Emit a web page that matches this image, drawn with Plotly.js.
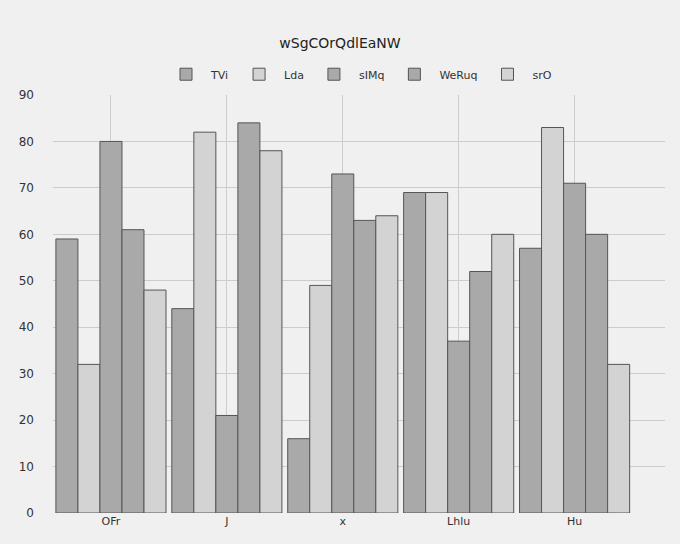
<!DOCTYPE html>
<html>
<head>
<script src="https://cdn.plot.ly/plotly-3.0.1.min.js"></script>
<style>body{margin:0;background:#f0f0f0}</style>
</head>
<body>
<div id="graf" style="width:680px;height:544px"></div>
<script>
var kategorie = ['OFr', 'J', 'x', 'Lhlu', 'Hu'];
var nazvy = ['TVi', 'Lda', 'sIMq', 'WeRuq', 'srO'];
var farby = ['#a9a9a9', '#d3d3d3', '#a9a9a9', '#a9a9a9', '#d3d3d3'];
var hodnotyTVi = [59, 44, 16, 69, 57];
var hodnotyLda = [32, 82, 49, 69, 83];
var hodnotySIMq = [80, 21, 73, 37, 71];
var hodnotyWeRuq = [61, 84, 63, 52, 60];
var hodnotySrO = [48, 78, 64, 60, 32];
var serie = [hodnotyTVi, hodnotyLda, hodnotySIMq, hodnotyWeRuq, hodnotySrO];

var data = [];
for (var i = 0; i < serie.length; i++) {
    data.push({
        x: kategorie,
        y: serie[i],
        type: 'bar',
        name: nazvy[i],
        marker: {color: farby[i], line: {color: '#555', width: 1}}
    });
}

var layout = {
    title: {text: 'wSgCOrQdlEaNW', x: 0.5, xanchor: 'center', y: 0.92, yanchor: 'middle', font: {size: 14, color: '#222'}},
    paper_bgcolor: '#f0f0f0',
    plot_bgcolor: '#f0f0f0',
    font: {family: 'DejaVu Sans', size: 11, color: '#333'},
    barmode: 'group',
    bargap: 0.05,
    bargroupgap: 0,
    margin: {l: 53, r: 15, t: 95, b: 31},
    showlegend: true,
    legend: {orientation: 'h', x: 0.5, xanchor: 'center', y: 1.015, yanchor: 'bottom', font: {size: 11}, itemwidth: 40},
    xaxis: {showgrid: true, gridcolor: '#cccccc', ticks: '', showline: false, range: [-0.5, 4.78]},
    yaxis: {range: [0, 90], dtick: 10, gridcolor: '#cccccc', zeroline: false, ticks: '', tickfont: {size: 12}, ticklabelstandoff: 18}
};

Plotly.newPlot('graf', data, layout, {displayModeBar: false});
</script>
</body>
</html>
